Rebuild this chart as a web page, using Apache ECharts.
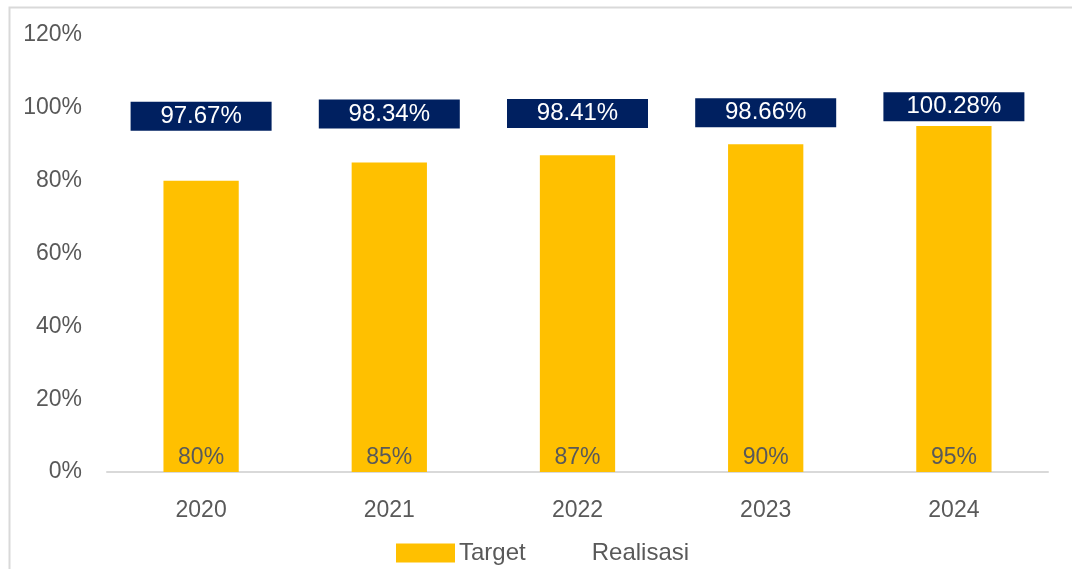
<!DOCTYPE html>
<html lang="en">
<head>
    <meta charset="UTF-8">
    <title>Target vs Realisasi</title>
    <style>
        html, body { margin: 0; padding: 0; background: #fff; }
    </style>
</head>
<body>
    <div id="main" style="width:1072px;height:569px;"></div>

    <script src="https://cdn.jsdelivr.net/npm/echarts@6/dist/echarts.min.js"></script>
    <script>
    var years = ['2020', '2021', '2022', '2023', '2024'];
    var target = [80, 85, 87, 90, 95];
    var realisasi = [97.67, 98.34, 98.41, 98.66, 100.28];

    var font = '"Liberation Sans", Arial, sans-serif';
    var grey = '#595959';

    var chart = echarts.init(document.getElementById('main'));

    chart.setOption({
        animation: false,
        textStyle: { fontFamily: font },
        graphic: [{
            type: 'rect',
            shape: { x: 9.5, y: 7.5, width: 1100, height: 600 },
            style: { fill: 'none', stroke: '#d9d9d9', lineWidth: 2 },
            silent: true
        }],
        grid: { left: 107, right: 24, top: 35, bottom: 97 },
        legend: {
            left: 391,
            top: 536,
            itemWidth: 59,
            itemHeight: 19,
            itemGap: 3,
            icon: 'rect',
            textStyle: { color: grey, fontSize: 24, fontFamily: font, padding: [0, 0, 0, -1] },
            data: ['Target', 'Realisasi']
        },
        xAxis: {
            type: 'category',
            data: years,
            axisTick: { show: false },
            axisLine: { lineStyle: { color: '#d9d9d9', width: 2 } },
            axisLabel: { color: grey, fontSize: 23, margin: 27, fontFamily: font }
        },
        yAxis: {
            type: 'value',
            min: 0,
            max: 120,
            interval: 20,
            splitLine: { show: false },
            axisLine: { show: false },
            axisTick: { show: false },
            axisLabel: { color: grey, fontSize: 23, margin: 25, fontFamily: font, formatter: '{value}%' }
        },
        series: [{
            name: 'Target',
            type: 'bar',
            data: target,
            barWidth: '40%',
            itemStyle: { color: '#FFC000' },
            label: {
                show: true,
                position: 'insideBottom',
                distance: 3,
                color: grey,
                fontSize: 23,
                fontFamily: font,
                formatter: '{c}%'
            }
        }, {
            name: 'Realisasi',
            type: 'scatter',
            data: realisasi,
            symbol: 'rect',
            symbolSize: 1,
            itemStyle: { color: 'rgba(0,0,0,0)', opacity: 1 },
            z: 5,
            label: {
                show: true,
                position: 'inside',
                color: '#ffffff',
                fontSize: 24,
                fontFamily: font,
                backgroundColor: '#002060',
                width: 141,
                height: 29,
                lineHeight: 29,
                align: 'center',
                verticalAlign: 'middle',
                formatter: function (p) { return p.value.toFixed(2) + '%'; }
            }
        }]
    });
    </script>
</body>
</html>
